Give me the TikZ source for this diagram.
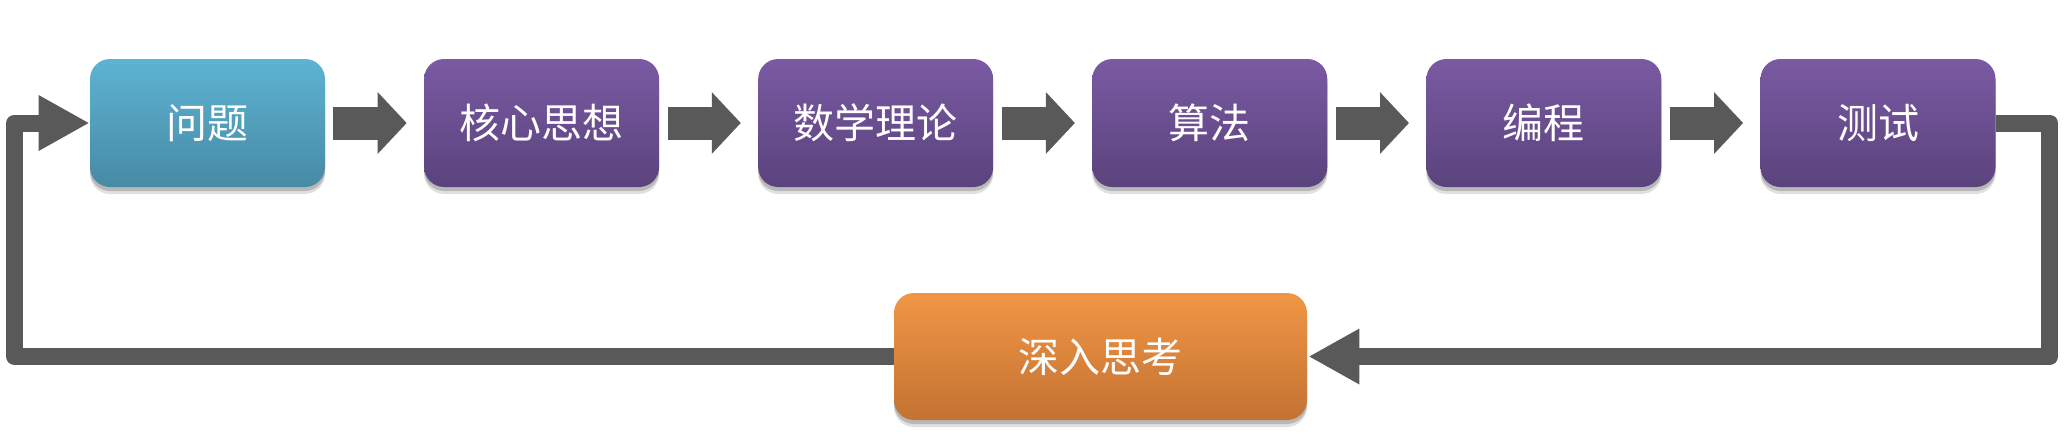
\documentclass[tikz,border=0pt]{standalone}
\usepackage{fontspec}
\setmainfont{Noto Sans CJK SC}
\usetikzlibrary{arrows.meta,shadows}
\definecolor{arrowgray}{HTML}{595959}
\definecolor{bluetop}{HTML}{5DB3D3}
\definecolor{bluebot}{HTML}{478AA5}
\definecolor{purtop}{HTML}{7A5AA3}
\definecolor{purbot}{HTML}{5A437D}
\definecolor{orgtop}{HTML}{F19646}
\definecolor{orgbot}{HTML}{C37232}
\begin{document}
\begin{tikzpicture}[x=0.5pt,y=-0.5pt,
  box/.style={rounded corners=10pt, minimum width=117.5pt, minimum height=64pt,
    inner sep=0pt, text=white, font=\fontsize{20.5}{24}\selectfont,
    general shadow={shadow xshift=0pt, shadow yshift=-3.5pt, opacity=0.12, fill=black},
    general shadow={shadow xshift=0pt, shadow yshift=-2pt, opacity=0.18, fill=black}},
  bluebox/.style={box, top color=bluetop, bottom color=bluebot},
  purbox/.style={box, top color=purtop, bottom color=purbot},
  orgbox/.style={box, top color=orgtop, bottom color=orgbot, minimum width=206.5pt, minimum height=63.5pt},
  flow/.style={draw=arrowgray, line width=16.5pt, -{Triangle[length=14.5pt,width=30pt]}},
  loopline/.style={draw=arrowgray, line width=8.5pt, line join=round, -{Triangle[length=25.5pt,width=26pt]}}
]
\useasboundingbox (0,0) rectangle (2066,436);
\node[bluebox] (b1) at (207.5,123) {问题};
\node[purbox] (b2) at (541.6,123) {核心思想};
\node[purbox] (b3) at (875.7,123) {数学理论};
\node[purbox] (b4) at (1209.8,123) {算法};
\node[purbox] (b5) at (1543.9,123) {编程};
\node[purbox] (b6) at (1878,123) {测试};
\node[orgbox] (b7) at (1100.5,356.5) {深入思考};
\foreach \a/\b in {b1/b2,b2/b3,b3/b4,b4/b5,b5/b6}
  \draw[flow] ([xshift=4pt]\a.east) -- ([xshift=-8.5pt]\b.west);
\draw[loopline] (b6.east) -- ++(54,0) |- ([xshift=0.5pt]b7.east);
\draw[loopline] (b7.west) -- (14.5,356.5) |- (b1.west);
\end{tikzpicture}
\end{document}
